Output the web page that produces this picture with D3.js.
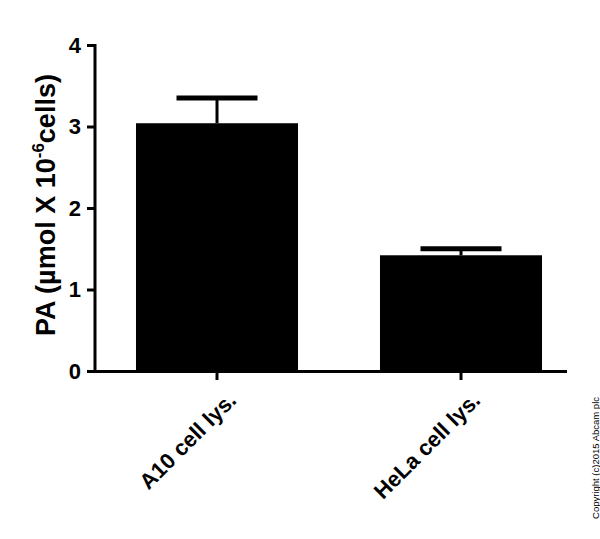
<!DOCTYPE html>
<html><head><meta charset="utf-8">
<script src="https://cdn.jsdelivr.net/npm/d3@7"></script>
<style>body{margin:0;background:#fff}</style>
</head><body>
<svg id="c" width="600" height="539"></svg>
<script>
const categories = ["A10 cell lys.", "HeLa cell lys."];
const means = [3.04, 1.42];
const errTops = [3.35, 1.50];
const yTicks = [0, 1, 2, 3, 4];

const svg = d3.select("#c");
const y = d3.scaleLinear().domain([0, 4]).range([371, 45]);
const x = d3.scaleBand().domain(categories).range([95, 583]).paddingInner(0.336).paddingOuter(0.168);

// bars
svg.selectAll("rect.bar").data(categories).enter().append("rect")
    .attr("x", d => x(d))
    .attr("width", x.bandwidth())
    .attr("y", (d, i) => y(means[i]))
    .attr("height", (d, i) => y(0) - y(means[i]))
    .attr("fill", "#000");

// error bars, upper only
const cap = x.bandwidth() / 2;
categories.forEach((d, i) => {
    const cx = x(d) + x.bandwidth() / 2;
    svg.append("line").attr("x1", cx).attr("x2", cx)
        .attr("y1", y(means[i])).attr("y2", y(errTops[i]))
        .attr("stroke", "#000").attr("stroke-width", 3);
    svg.append("line").attr("x1", cx - cap / 2).attr("x2", cx + cap / 2)
        .attr("y1", y(errTops[i])).attr("y2", y(errTops[i]))
        .attr("stroke", "#000").attr("stroke-width", 5);
});

// y axis
const yAxis = svg.append("g").attr("transform", "translate(95,0)")
    .call(d3.axisLeft(y).tickValues(yTicks).tickFormat(d3.format("d")).tickSize(8).tickPadding(6));
yAxis.select(".domain").attr("stroke-width", 3).attr("d", "M0,44V372");
yAxis.selectAll(".tick line").attr("stroke-width", 3);
yAxis.selectAll("text").attr("font-family", "Arial, Liberation Sans").attr("font-size", 22).attr("font-weight", "bold").attr("fill", "#000");

// x axis
svg.append("line").attr("x1", 94).attr("x2", 567).attr("y1", 371.5).attr("y2", 371.5)
    .attr("stroke", "#000").attr("stroke-width", 3);
const xAxis = svg.append("g").attr("transform", "translate(0,371)")
    .call(d3.axisBottom(x).tickSize(9).tickPadding(4));
xAxis.select(".domain").remove();
xAxis.selectAll(".tick line").attr("stroke-width", 3);
xAxis.selectAll("text")
    .attr("font-family", "Arial, Liberation Sans").attr("font-size", 22).attr("font-weight", "bold").attr("fill", "#000")
    .attr("text-anchor", "end").attr("dy", "0.35em")
    .attr("transform", "translate(6,16) rotate(-45)");

// y label
const yl = svg.append("text").attr("transform", "translate(55,205) rotate(-90)")
    .attr("text-anchor", "middle").attr("font-family", "Arial, Liberation Sans")
    .attr("font-size", 27).attr("font-weight", "bold").attr("fill", "#000");
yl.append("tspan").text("PA (µmol X 10");
yl.append("tspan").text("-6").attr("font-size", 17).attr("dy", -11);
yl.append("tspan").text("cells)").attr("dy", 11);

// copyright
svg.append("text").attr("transform", "translate(599,458) rotate(-90)")
    .attr("text-anchor", "middle").attr("font-family", "Arial, Liberation Sans")
    .attr("font-size", 9.5).attr("fill", "#000").text("Copyright (c)2015 Abcam plc");
</script>
</body></html>
